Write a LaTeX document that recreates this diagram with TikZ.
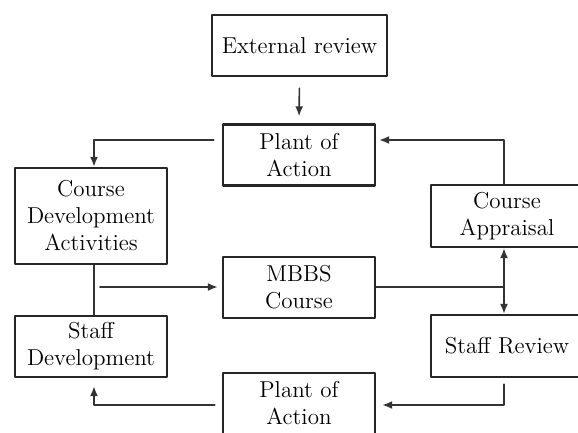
\documentclass[tikz,border=0pt]{standalone}
\usetikzlibrary{arrows.meta}
\begin{document}
\begin{tikzpicture}[x=0.5pt, y=-0.5pt, line cap=round, line join=round,
        box/.style={draw=black!85, line width=1.2pt, minimum width=76pt, minimum height=30.5pt, inner sep=1pt, align=center, font=\fontsize{11.5}{13.5}\selectfont},
        link/.style={draw=black!80, line width=0.8pt},
        tip/.style={link, -{Latex[length=5pt, width=4pt]}},
        twotip/.style={link, {Latex[length=5pt, width=4pt]}-{Latex[length=5pt, width=4pt]}}]

    \useasboundingbox (0,0) rectangle (578,433);

    \node[box, minimum width=87.5pt] (ext) at (299.5,45.5) {External review};
    \node[box] (planA) at (299,155) {Plant of\\Action};
    \node[box, minimum height=48pt] (devact) at (91,216) {Course\\Development\\Activities};
    \node[box, minimum height=31pt] (apprais) at (507,216) {Course\\Appraisal};
    \node[box] (mbbs) at (299,287.5) {MBBS\\Course};
    \node[box] (staffdev) at (91,346.5) {Staff\\Development};
    \node[box, minimum height=31pt] (staffrev) at (507,346) {Staff Review};
    \node[box] (planB) at (299,403.5) {Plant of\\Action};

    \coordinate (lc) at (94,0);
    \coordinate (rc) at (504,0);
    \coordinate (top) at (0,140);
    \coordinate (mid) at (0,287);
    \coordinate (bot) at (0,405);

    \draw[tip, shorten <=5.5pt, shorten >=3.5pt] (ext.south) -- (planA.north);
    \draw[tip, shorten <=4pt] (planA.west |- top) -| (devact.north -| lc);
    \draw[tip, shorten >=1.5pt] (apprais.north -| rc) |- (planA.east |- top);
    \draw[link] (devact.south -| lc) -- (staffdev.north -| lc);
    \draw[tip, shorten <=3pt, shorten >=2pt] (lc |- mid) -- (mbbs.west |- mid);
    \draw[link] (mbbs.east |- mid) -- (rc |- mid);
    \draw[twotip] (apprais.south -| rc) -- (staffrev.north -| rc);
    \draw[tip, shorten <=3pt, shorten >=3pt] (staffrev.south -| rc) |- (planB.east |- bot);
    \draw[tip, shorten <=3.5pt, shorten >=4pt] (planB.west |- bot) -| (staffdev.south -| lc);

\end{tikzpicture}
\end{document}
